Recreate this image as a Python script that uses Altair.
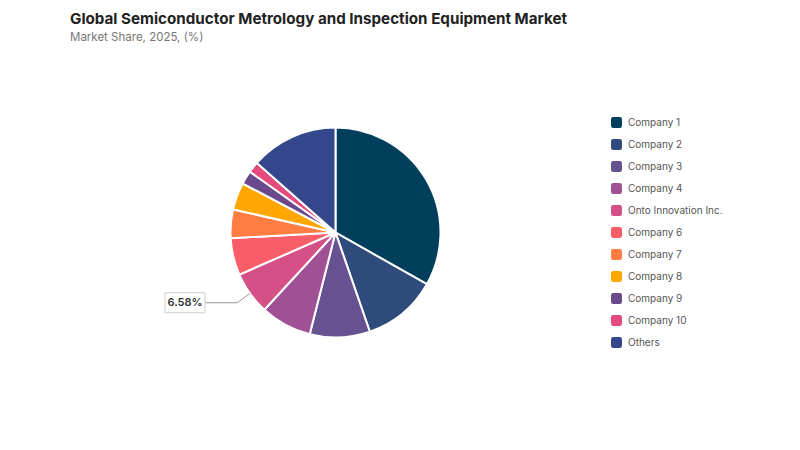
import math
import altair as alt
import pandas as pd

categories = ["Company 1", "Company 2", "Company 3", "Company 4", "Onto Innovation Inc.",
              "Company 6", "Company 7", "Company 8", "Company 9", "Company 10", "Others"]
shares = [33.2, 11.5, 9.25, 7.9, 6.58, 5.7, 4.4, 4.2, 2.1, 1.7, 13.47]
colors = ["#003f5c", "#2f4b7c", "#665191", "#a05195", "#d45087", "#f95d6a",
          "#ff7c43", "#ffa600", "#6a4a8c", "#e44a7c", "#33478a"]
label_index = 4
label_text = "6.58%"

W, H = 784, 434
CX, CY, R = 327.5, 224.5, 105

df = pd.DataFrame({"name": categories, "share": shares, "idx": list(range(len(categories)))})

# leader line derived from the labelled slice's mid angle
total = sum(shares)
start = sum(shares[:label_index]) / total * 2 * math.pi
end = sum(shares[:label_index + 1]) / total * 2 * math.pi
mid = (start + end) / 2
ex, ey = CX + R * math.sin(mid), CY - R * math.cos(mid)
kx, ky = CX + (R + 16) * math.sin(mid), CY - (R + 16) * math.cos(mid)
bx2 = kx - 32
bw, bh = 40, 20
seg = pd.DataFrame({"x": [ex, kx], "y": [ey, ky], "x2": [kx, bx2], "y2": [ky, ky]})
box = pd.DataFrame({"x": [bx2 - bw], "x2": [bx2], "y": [ky - bh / 2], "y2": [ky + bh / 2],
                    "cx": [bx2 - bw / 2], "cy": [ky], "t": [label_text]})

xs = alt.Scale(domain=[0, W], range=[0, W])
ys = alt.Scale(domain=[0, H], range=[0, H])

rounded = "M -0.6,-1 L 0.6,-1 Q 1,-1 1,-0.6 L 1,0.6 Q 1,1 0.6,1 L -0.6,1 Q -1,1 -1,0.6 L -1,-0.6 Q -1,-1 -0.6,-1 Z"

pie = alt.Chart(df).mark_arc(outerRadius=R, stroke="white", strokeWidth=2).encode(
    theta=alt.Theta("share:Q", stack=True),
    order=alt.Order("idx:Q"),
    color=alt.Color("name:N", scale=alt.Scale(domain=categories, range=colors),
                    sort=categories,
                    legend=alt.Legend(title=None, orient="none", legendX=603, legendY=109,
                                      symbolType=rounded, symbolSize=120, symbolStrokeWidth=0,
                                      labelFont="Inter", labelFontSize=10, labelColor="#555555",
                                      rowPadding=11, labelOffset=6)),
    x=alt.value(CX), y=alt.value(CY),
)

lines = alt.Chart(seg).mark_rule(color="#999999", strokeWidth=1).encode(
    x=alt.X("x:Q", scale=xs, axis=None), y=alt.Y("y:Q", scale=ys, axis=None),
    x2="x2:Q", y2="y2:Q")

rect = alt.Chart(box).mark_rect(fill="white", stroke="#cccccc", strokeWidth=1).encode(
    x=alt.X("x:Q", scale=xs, axis=None), x2="x2:Q",
    y=alt.Y("y:Q", scale=ys, axis=None), y2="y2:Q")

txt = alt.Chart(box).mark_text(font="Inter", fontSize=11, fontWeight=600, color="#333333",
                               align="center", baseline="middle").encode(
    x=alt.X("cx:Q", scale=xs, axis=None), y=alt.Y("cy:Q", scale=ys, axis=None), text="t:N")

title = alt.Chart(pd.DataFrame({"t": ["Global Semiconductor Metrology and Inspection Equipment Market"]})).mark_text(
    font="Inter", fontSize=15.2, fontWeight="bold", color="#222222", align="left", baseline="middle"
).encode(x=alt.value(62), y=alt.value(10.5), text="t:N")

subtitle = alt.Chart(pd.DataFrame({"t": ["Market Share, 2025, (%)"]})).mark_text(
    font="Inter", fontSize=11.5, color="#777777", align="left", baseline="middle"
).encode(x=alt.value(62), y=alt.value(30), text="t:N")

chart = alt.layer(pie, lines, rect, txt, title, subtitle).properties(
    width=W, height=H, autosize="none", padding=0, background="white"
).configure_view(strokeWidth=0, stroke="transparent")

chart.save("out.html", embed_options={"renderer": "svg", "actions": False})
